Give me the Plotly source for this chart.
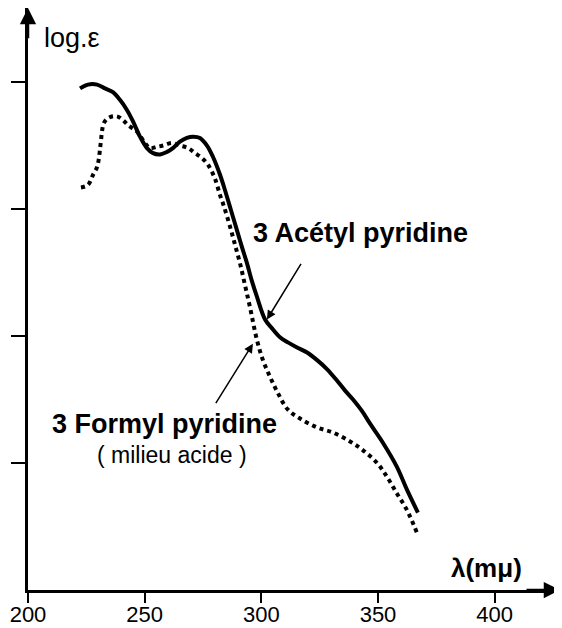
import plotly.graph_objects as go

# 3 Acétyl pyridine (solid)
acetyl_wl = [222.3, 225.7, 229.6, 233.0, 236.4, 239.4, 242.4, 245.0, 248.0, 251.0,
             253.6, 256.6, 259.6, 262.1, 265.1, 268.1, 270.7, 273.7, 276.7, 279.3,
             282.3, 284.4, 287.0, 289.6, 291.7, 293.9, 296.0, 298.1, 301.6, 304.6,
             308.0, 311.4, 315.3, 319.6, 323.9, 328.1, 332.4, 335.9, 339.3, 343.1,
             346.6, 352.1, 358.1, 362.4, 367.1]
acetyl_log = [3.95, 3.98, 3.98, 3.95, 3.92, 3.86, 3.78, 3.69, 3.57, 3.48,
              3.44, 3.43, 3.45, 3.48, 3.53, 3.56, 3.57, 3.56, 3.50, 3.41,
              3.27, 3.15, 2.99, 2.83, 2.70, 2.57, 2.43, 2.31, 2.13, 2.06,
              1.99, 1.95, 1.91, 1.87, 1.81, 1.74, 1.65, 1.57, 1.50, 1.41,
              1.31, 1.16, 0.97, 0.79, 0.61]

# 3 Formyl pyridine, milieu acide (dotted)
formyl_wl = [222.7, 225.7, 227.9, 229.6, 230.4, 230.9, 231.3, 231.7, 232.6, 234.7,
             238.1, 240.7, 242.9, 246.7, 250.1, 252.3, 255.3, 257.9, 261.7, 265.1,
             268.6, 271.6, 274.6, 277.1, 280.1, 282.3, 284.0, 286.6, 288.7, 290.9,
             293.0, 295.1, 298.1, 300.7, 303.7, 307.1, 311.4, 316.6, 323.9, 330.7,
             338.0, 343.6, 349.6, 353.9, 358.1, 362.4, 366.7]
formyl_log = [3.17, 3.19, 3.27, 3.33, 3.40, 3.48, 3.54, 3.61, 3.68, 3.72,
              3.73, 3.70, 3.66, 3.61, 3.52, 3.48, 3.49, 3.50, 3.52, 3.50,
              3.48, 3.44, 3.40, 3.35, 3.24, 3.11, 3.02, 2.86, 2.72, 2.57,
              2.40, 2.23, 1.97, 1.81, 1.68, 1.55, 1.42, 1.35, 1.28, 1.24,
              1.17, 1.10, 1.00, 0.89, 0.76, 0.63, 0.45]

x_ticks = [200, 250, 300, 350, 400]
x_tick_labels = ["200", "250", "300", "350", "400"]
y_ticks = [1, 2, 3, 4]

X_MAX = 428
Y_MAX = 4.583

FONT = "Liberation Sans, Arial, sans-serif"

fig = go.Figure()
fig.add_trace(go.Scatter(x=acetyl_wl, y=acetyl_log, mode="lines",
                         line=dict(color="black", width=4, shape="spline"),
                         name="3 Acétyl pyridine", hoverinfo="skip"))
fig.add_trace(go.Scatter(x=formyl_wl, y=formyl_log, mode="lines",
                         line=dict(color="black", width=4, dash="4px,4px", shape="spline"),
                         name="3 Formyl pyridine", hoverinfo="skip"))

annotations = [
    dict(x=342.3, y=2.81, text="<b>3 Acétyl pyridine</b>", showarrow=False,
         font=dict(size=27, family=FONT, color="black")),
    dict(x=258.7, y=1.31, text="<b>3 Formyl pyridine</b>", showarrow=False,
         font=dict(size=27, family=FONT, color="black")),
    dict(x=261.7, y=1.06, text="( milieu acide )", showarrow=False,
         font=dict(size=23, family=FONT, color="black")),
    dict(x=218.9, y=4.35, text="log.ε", showarrow=False,
         font=dict(size=27, family=FONT, color="black")),
    dict(x=396.3, y=0.17, text="<b>λ(mμ)</b>", showarrow=False,
         font=dict(size=26, family=FONT, color="black")),
    # pointer arrows
    dict(x=302.4, y=2.13, ax=317.4, ay=2.58, axref="x", ayref="y", xref="x", yref="y",
         text="", showarrow=True, arrowhead=2, arrowsize=1.2, arrowwidth=1.5, arrowcolor="black"),
    dict(x=296.4, y=1.94, ax=280.1, ay=1.46, axref="x", ayref="y", xref="x", yref="y",
         text="", showarrow=True, arrowhead=2, arrowsize=1.2, arrowwidth=1.5, arrowcolor="black"),
    # axis arrowheads
    dict(x=X_MAX, y=0, ax=X_MAX - 15, ay=0, axref="x", ayref="y", xref="x", yref="y",
         text="", showarrow=True, arrowhead=2, arrowsize=1.3, arrowwidth=2.5, arrowcolor="black"),
    dict(x=200, y=Y_MAX, ax=200, ay=Y_MAX - 0.25, axref="x", ayref="y", xref="x", yref="y",
         text="", showarrow=True, arrowhead=2, arrowsize=1.3, arrowwidth=2.5, arrowcolor="black"),
]

# page body has an 8px default margin; size the figure to fit the 562x628 window
fig.update_layout(
    width=554, height=620,
    margin=dict(l=20, r=2, t=0, b=38),
    paper_bgcolor="white", plot_bgcolor="white",
    showlegend=False,
    annotations=annotations,
    xaxis=dict(range=[200, X_MAX], showgrid=False, zeroline=False, automargin=False,
               showline=True, linecolor="black", linewidth=2.5,
               tickmode="array", tickvals=x_ticks, ticktext=x_tick_labels,
               ticks="outside", ticklen=10, tickwidth=2, tickcolor="black",
               ticklabelstandoff=-7,
               tickfont=dict(size=22, family=FONT, color="black")),
    yaxis=dict(range=[0, Y_MAX], showgrid=False, zeroline=False, automargin=False,
               showline=True, linecolor="black", linewidth=2.5,
               tickmode="array", tickvals=y_ticks, ticktext=["", "", "", ""],
               ticks="outside", ticklen=14, tickwidth=2, tickcolor="black"),
)

fig.write_html("out.html")
